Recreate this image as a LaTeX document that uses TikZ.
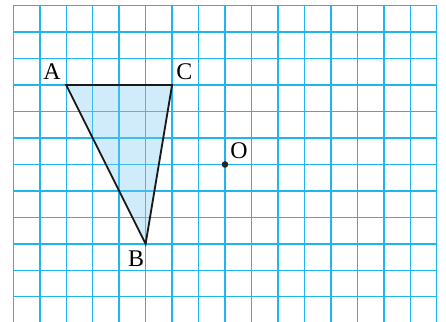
\documentclass[tikz,border=0pt]{standalone}
\usepackage{fontspec}
\setmainfont{Liberation Serif}
\usetikzlibrary{positioning}
\definecolor{gridblue}{RGB}{30,182,236}
\definecolor{trifill}{RGB}{120,200,240}

\begin{document}
\begin{tikzpicture}[
    x=0.7cm, y=0.7cm,
    gridline/.style={draw=gridblue, line width=1.1pt},
    tri/.style={draw=black!90, fill=trifill, fill opacity=0.35, draw opacity=1, line width=1.4pt},
    lbl/.style={font=\fontsize{18}{20}\selectfont, inner sep=1pt},
    dot/.style={circle, fill=black!85, inner sep=0pt, minimum size=5pt}
]
    \useasboundingbox (-0.503,-0.953) rectangle (16.352,11.215);

    % squared paper
    \foreach \i in {0,...,16}
        \draw[gridline] (\i,-0.953) -- (\i,11);
    \foreach \j in {0,...,11}
        \draw[gridline] (0,\j) -- (16,\j);

    \coordinate (a) at (2,8);
    \coordinate (c) at (6,8);
    \coordinate (b) at (5,2);
    \node[dot] (o) at (8,5) {};

    \draw[tri] (a) -- (c) -- (b) -- cycle;

    \node[lbl, above left=3pt and 3pt of a] (A) {A};
    \node[lbl, above right=3pt and 2pt of c] (C) {C};
    \node[lbl, below left=4pt and 0pt of b] (B) {B};
    \node[lbl, above right=1pt and 1pt of o] (O) {O};
\end{tikzpicture}
\end{document}
